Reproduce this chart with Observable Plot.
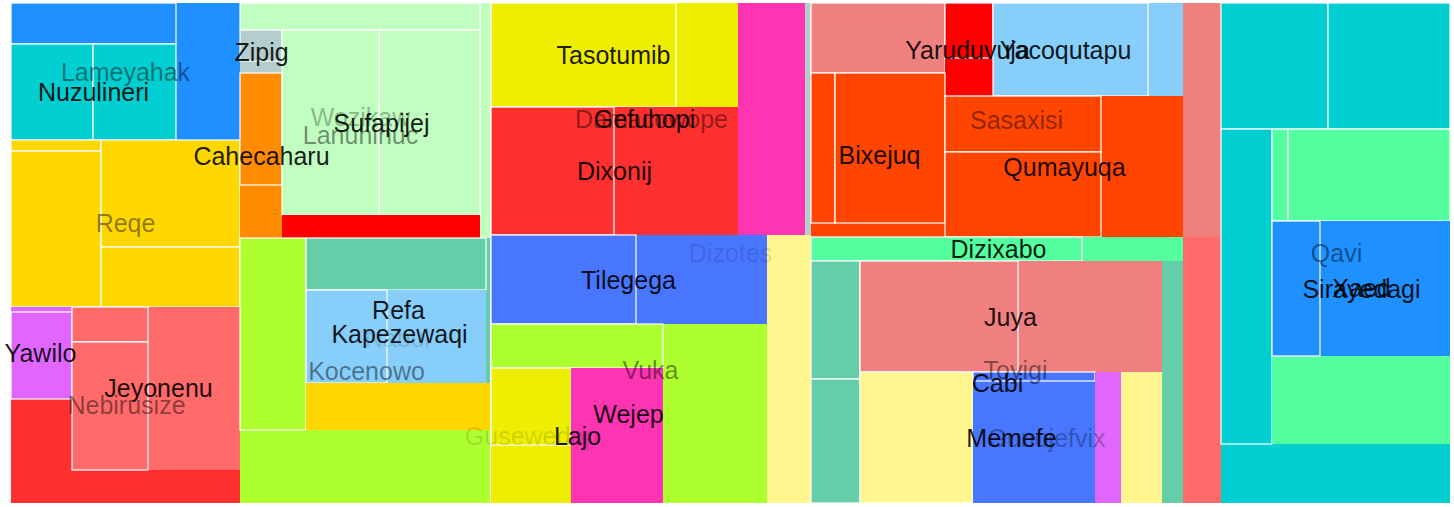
<!DOCTYPE html>
<html>
<head>
<meta charset="utf-8">
<script src="https://cdn.jsdelivr.net/npm/d3@7"></script>
<script src="https://cdn.jsdelivr.net/npm/@observablehq/plot@0.6"></script>
<style>
  html, body { margin: 0; padding: 0; background: #ffffff; }
  svg { display: block; }
</style>
</head>
<body>
<div id="chart"></div>
<script>
// Treemap tiles (x0, x1, y0, y1 in layout units; 1440 x 500 layout)
const tileX0 = [1,1,1,83,1,1,1,91,91,1,1,1,62,62,62,
  230,230,230,230,230,230,272,369,272,230,230,296,296,296,296,296,
  481,481,481,481,481,728,481,481,481,481,481,481,481,561,
  801,801,935,935,983,983,801,801,825,935,935,935,801,801,801,801,801,801,850,850,850,850,963,963,1085,
  1211,1211,1318,1211,1262,1262,1278,1262,1262];
const tileX1 = [230,166,83,166,230,91,91,230,230,230,62,62,230,138,138,
  480,470,272,272,272,272,369,470,470,480,296,480,476,476,377,480,
  801,728,666,728,604,795,801,757,626,757,653,561,561,653,
  1211,935,983,983,1173,1138,935,825,935,1173,1091,1091,1211,1173,1072,1173,850,850,1152,1008,1152,963,1085,1085,1111,
  1440,1318,1440,1262,1440,1278,1440,1440,1310];
const tileY0 = [0,0,41,41,137,137,148,137,244,304,304,309,304,304,339,
  0,0,27,27,70,70,27,27,212,235,235,235,235,287,287,380,
  0,0,0,104,104,0,232,232,232,321,321,365,365,365,
  0,0,0,0,0,0,70,70,70,93,93,149,234,234,234,258,258,376,258,258,369,369,369,369,369,
  0,0,0,126,126,126,126,218,218];
const tileY1 = [137,41,137,137,304,148,304,244,304,500,396,396,467,339,467,
  235,27,70,58,235,182,212,212,235,500,427,380,287,380,380,427,
  232,104,104,232,232,232,500,321,321,500,365,500,442,500,
  234,70,93,55,93,93,234,220,220,234,149,234,500,258,258,500,376,500,369,369,500,500,500,378,500,
  500,126,126,441,441,218,218,353,353];
const tileColor = ["dodgerblue","dodgerblue","darkturquoise","darkturquoise","gold","gold","gold","gold","gold","firebrick1","mediumorchid1","mediumorchid1","indianred1","indianred1","indianred1",
  "darkseagreen1","darkseagreen1","lightcyan3","lightcyan3","darkorange","darkorange","darkseagreen1","darkseagreen1","red","greenyellow","greenyellow","mediumaquamarine","mediumaquamarine","lightskyblue","lightskyblue","gold",
  "lightcyan3","yellow2","yellow2","firebrick1","firebrick1","maroon1","khaki1","royalblue1","royalblue1","greenyellow","greenyellow","yellow2","yellow2","maroon1",
  "lightcoral","lightcoral","red","red","lightskyblue","lightskyblue","orangered","orangered","orangered","orangered","orangered","orangered","indianred1","seagreen1","seagreen1","mediumaquamarine","mediumaquamarine","mediumaquamarine","lightcoral","lightcoral","khaki1","khaki1","royalblue1","royalblue1","mediumorchid1",
  "darkturquoise","darkturquoise","darkturquoise","darkturquoise","seagreen1","seagreen1","seagreen1","dodgerblue","dodgerblue"];
const tileLeaf = [0,1,1,1,0,1,1,1,1,0,0,1,0,1,1,
  0,1,0,1,0,1,1,1,0,0,1,0,1,0,1,0,
  0,0,1,0,1,0,0,0,1,0,1,0,1,0,
  0,1,0,1,0,1,0,1,1,0,1,1,0,0,1,0,1,1,0,1,0,1,0,1,0,
  0,1,1,1,0,1,1,0,1];

const palette = {
  dodgerblue: "#1e90ff", darkturquoise: "#00ced1", gold: "#ffd700", firebrick1: "#ff3030",
  mediumorchid1: "#e066ff", indianred1: "#ff6a6a", darkseagreen1: "#c1ffc1", lightcyan3: "#b4cdcd",
  darkorange: "#ff8c00", red: "#ff0000", greenyellow: "#adff2f", mediumaquamarine: "#66cdaa",
  lightskyblue: "#87cefa", yellow2: "#eeee00", maroon1: "#ff34b3", khaki1: "#fff68f",
  royalblue1: "#4876ff", lightcoral: "#f08080", orangered: "#ff4500", seagreen1: "#54ff9f"
};

// Labels
const labelName = ["Lameyahak","Nuzulineri","Zipig","Cahecaharu","Wozikaw","Lanuhinuc","Sufapijej","Reqe","Yawilo","Jeyonenu","Nebirusize",
  "Refa","Nabul","Kapezewaqi","Kocenowo","Gusewedop","Tasotumib","Damacowope","Gefuhopi","Dixonij","Tilegega","Dizotes","Vuka","Wejep","Lajo",
  "Yaruduvuja","Yacoqutapu","Sasaxisi","Bixejuq","Qumayuqa","Dizixabo","Juya","Toyigi","Cabi","Gunojefvix","Memefe","Qavi","Xaed","Sirayedagi"];
const labelX = [115,83,251,251,350,350,371,115,30,148,116,
  388,387,389,356,521,603,641,634,604,618,720,640,618,567,
  957,1055,1006,869,1054,988,1000,1005,987,1036,1001,1326,1351,1351];
const labelY = [69,89,49,153,114,132,120,220,350,385,402,
  307,335,331,368,433,52,116,116,168,277,250,367,411,433,
  47,47,117,152,164,246,314,367,380,435,435,250,285,286];
// level: 0 = top group (faded), 1 = sub group (solid), 2 = faint group, 3 = half group
const labelLevel = [0,1,1,1,3,0,1,0,1,1,0,
  1,2,1,0,2,1,0,1,1,1,2,0,1,1,
  1,1,0,1,1,1,1,0,1,3,1,0,1,1];

const tiles = tileX0.map((x0, i) => ({x0, x1: tileX1[i], y0: tileY0[i], y1: tileY1[i], color: tileColor[i], leaf: tileLeaf[i]}));
const labels = labelName.map((name, i) => ({name, x: labelX[i], y: labelY[i], level: labelLevel[i]}));
const levelOpacity = [0.45, 0.9, 0.13, 0.3];

const chart = Plot.plot({
  width: 1454,
  height: 507,
  marginLeft: 10,
  marginRight: 4,
  marginTop: 3,
  marginBottom: 4,
  x: {domain: [0, 1440], axis: null},
  y: {domain: [0, 500], reverse: true, axis: null},
  style: {background: "#ffffff"},
  marks: [
    Plot.rect(tiles, {
      x1: "x0", x2: "x1", y1: "y0", y2: "y1",
      fill: d => palette[d.color],
      stroke: "white",
      strokeWidth: 1.2,
      strokeOpacity: d => d.leaf ? 1 : 0
    }),
    Plot.text(labels, {
      x: "x", y: "y", text: "name",
      fill: "black",
      fillOpacity: d => levelOpacity[d.level],
      fontSize: 25,
      fontFamily: "Liberation Sans, Arial, sans-serif"
    })
  ]
});
document.getElementById("chart").appendChild(chart);
</script>
</body>
</html>
